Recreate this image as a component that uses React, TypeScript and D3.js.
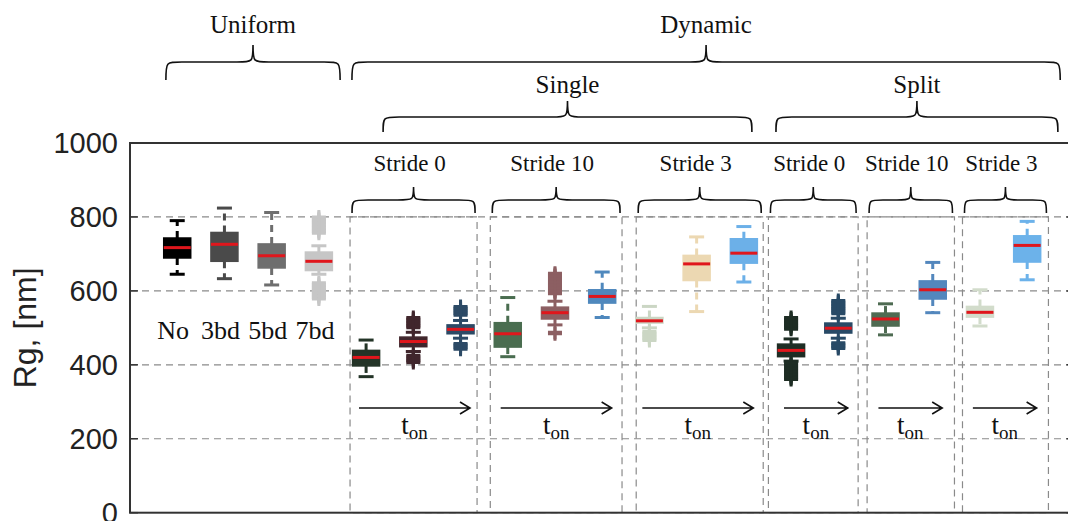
import React, { useEffect, useRef } from "react";
import * as d3 from "d3";

// ---- data ----
const uniformLabels = ["No", "3bd", "5bd", "7bd"];

const boxColors = [
  "#000000", "#4a4a4a", "#6e6e6e", "#c6c6c6",
  "#233427", "#40262c", "#2c4a66",
  "#4a6d50", "#8c5f62", "#4f88bd",
  "#cbd6c4", "#ecd8b2", "#6cb0e8",
  "#1e2d24", "#284a66",
  "#4e6b52", "#5387bd",
  "#d2dccb", "#6cb2ea",
];

const lowerCaps = [645, 633, 616, 645, 368, 436, 472, 422, 508, 528, 500, 544, 624, 410, 472, 481, 541, 505, 630];
const q1s = [689, 680, 662, 655, 397, 449, 484, 448, 524, 567, 513, 628, 675, 422, 486, 505, 578, 529, 678];
const medians = [717, 726, 695, 680, 420, 463, 496, 484, 541, 585, 519, 673, 702, 439, 499, 524, 603, 542, 723];
const q3s = [743, 758, 727, 705, 439, 475, 508, 514, 556, 603, 528, 696, 741, 456, 513, 540, 627, 558, 749];
const upperCaps = [790, 824, 812, 722, 467, 488, 520, 582, 572, 651, 558, 746, 774, 470, 526, 565, 677, 603, 788];

const outliers: number[][] = [
  [], [], [],
  [756, 760, 764, 768, 772, 776, 780, 784, 788, 792, 796, 800, 578, 582, 586, 590, 594, 598, 602, 606, 610, 614, 618, 622],
  [],
  [500, 504, 508, 512, 516, 520, 524, 528, 406, 410, 414, 418, 422, 426],
  [534, 538, 542, 546, 550, 554, 558, 442, 446, 450, 454, 458],
  [],
  [592, 596, 600, 604, 608, 612, 616, 620, 624, 628, 632, 636, 640, 644, 648, 484, 488],
  [],
  [466, 470, 474, 478, 482, 486, 490],
  [], [],
  [496, 500, 504, 508, 512, 516, 520, 524, 528, 360, 364, 368, 372, 376, 380, 384, 388, 392, 396, 400, 404],
  [538, 542, 546, 550, 554, 558, 562, 566, 570, 574, 444, 448, 452, 456, 460],
  [], [],
  [], [],
];

const yTicks = [0, 200, 400, 600, 800, 1000];

const strideLabels = ["Stride 0", "Stride 10", "Stride 3", "Stride 0", "Stride 10", "Stride 3"];
const strideMembers = [[5, 6, 7], [8, 9, 10], [11, 12, 13], [14, 15], [16, 17], [18, 19]];
const strideSpans: [number, number][] = [
  [4.66, 7.35], [7.63, 10.42], [10.72, 13.41],
  [13.52, 15.42], [15.61, 17.46], [17.63, 19.45],
];

const topLabels = ["Uniform", "Dynamic", "Single", "Split"];
const topSpans: [number, number][] = [[0.76, 4.45], [4.7, 19.7], [5.36, 13.17], [13.68, 19.65]];
const topLevels = [0, 0, 1, 1];

const W = 1068;
const H = 521;

function bracePath(x0: number, x1: number, yEnd: number, yMid: number, yTip: number) {
  const xc = (x0 + x1) / 2;
  const r = Math.min(16, (x1 - x0) / 6);
  return (
    `M${x0},${yEnd} C${x0},${yMid} ${x0},${yMid} ${x0 + r},${yMid} ` +
    `L${xc - r},${yMid} C${xc},${yMid} ${xc},${yMid} ${xc},${yTip} ` +
    `C${xc},${yMid} ${xc},${yMid} ${xc + r},${yMid} ` +
    `L${x1 - r},${yMid} C${x1},${yMid} ${x1},${yMid} ${x1},${yEnd}`
  );
}

const App: React.FC = () => {
  const svgRef = useRef<SVGSVGElement | null>(null);

  useEffect(() => {
    const svg = d3.select(svgRef.current);
    svg.selectAll("*").remove();

    const left = 130;
    const top = 143;
    const bottom = 512.7;

    const x = d3.scaleLinear().domain([0, 20]).range([left, left + 20 * 47.22]);
    const y = d3.scaleLinear().domain([0, 1000]).range([bottom, top]);
    const right = x(20);

    const serif = "'Liberation Serif', 'Times New Roman', serif";
    const sans = "'Liberation Sans', Arial, sans-serif";

    // grid lines
    svg
      .append("g")
      .selectAll("line")
      .data(yTicks.filter((t) => t > 0 && t < 1000))
      .enter()
      .append("line")
      .attr("x1", left)
      .attr("x2", right)
      .attr("y1", (d) => y(d))
      .attr("y2", (d) => y(d))
      .attr("stroke", "#8a8a8a")
      .attr("stroke-width", 1.2)
      .attr("stroke-dasharray", "7,5");

    // dashed group rectangles
    svg
      .append("g")
      .selectAll("rect")
      .data(strideSpans)
      .enter()
      .append("rect")
      .attr("x", (d) => x(d[0]))
      .attr("y", y(800))
      .attr("width", (d) => x(d[1]) - x(d[0]))
      .attr("height", y(0) - y(800))
      .attr("fill", "none")
      .attr("stroke", "#8a8a8a")
      .attr("stroke-width", 1.2)
      .attr("stroke-dasharray", "7,5");

    // frame
    svg
      .append("rect")
      .attr("x", left)
      .attr("y", top)
      .attr("width", right - left)
      .attr("height", bottom - top)
      .attr("fill", "none")
      .attr("stroke", "#333")
      .attr("stroke-width", 2);

    // y ticks + labels
    const yAxis = svg.append("g");
    yTicks.forEach((t) => {
      yAxis
        .append("line")
        .attr("x1", left)
        .attr("x2", left + 8)
        .attr("y1", y(t))
        .attr("y2", y(t))
        .attr("stroke", "#333")
        .attr("stroke-width", 1.5);
      yAxis
        .append("line")
        .attr("x1", right - 8)
        .attr("x2", right)
        .attr("y1", y(t))
        .attr("y2", y(t))
        .attr("stroke", "#333")
        .attr("stroke-width", 1.5);
      yAxis
        .append("text")
        .attr("x", left - 12)
        .attr("y", y(t))
        .attr("dy", "0.36em")
        .attr("text-anchor", "end")
        .attr("font-family", sans)
        .attr("font-size", 29)
        .attr("fill", "#222")
        .text(t);
    });

    svg
      .append("text")
      .attr("transform", `translate(36, ${(top + bottom) / 2}) rotate(-90)`)
      .attr("text-anchor", "middle")
      .attr("font-family", sans)
      .attr("font-size", 32)
      .attr("fill", "#222")
      .text("Rg, [nm]");

    // boxes
    const halfBox = 13.5;
    const halfCap = 7.5;
    const boxes = svg.append("g");
    boxColors.forEach((c, i) => {
      const cx = x(i + 1);
      const g = boxes.append("g");
      // whiskers (dashed like matlab)
      g.append("line")
        .attr("x1", cx).attr("x2", cx)
        .attr("y1", y(q3s[i])).attr("y2", y(upperCaps[i]))
        .attr("stroke", c).attr("stroke-width", 3).attr("stroke-dasharray", "7,5");
      g.append("line")
        .attr("x1", cx).attr("x2", cx)
        .attr("y1", y(q1s[i])).attr("y2", y(lowerCaps[i]))
        .attr("stroke", c).attr("stroke-width", 3).attr("stroke-dasharray", "7,5");
      [upperCaps[i], lowerCaps[i]].forEach((v) => {
        g.append("line")
          .attr("x1", cx - halfCap).attr("x2", cx + halfCap)
          .attr("y1", y(v)).attr("y2", y(v))
          .attr("stroke", c).attr("stroke-width", 3);
      });
      g.append("rect")
        .attr("x", cx - halfBox)
        .attr("y", y(q3s[i]))
        .attr("width", 2 * halfBox)
        .attr("height", y(q1s[i]) - y(q3s[i]))
        .attr("fill", c)
        .attr("stroke", c)
        .attr("stroke-width", 1.5);
      g.append("line")
        .attr("x1", cx - halfBox).attr("x2", cx + halfBox)
        .attr("y1", y(medians[i])).attr("y2", y(medians[i]))
        .attr("stroke", "#e0161c").attr("stroke-width", 3);
      outliers[i].forEach((v) => {
        g.append("path")
          .attr("d", `M${cx - 7},${y(v)} H${cx + 7} M${cx},${y(v) - 7} V${y(v) + 7}`)
          .attr("stroke", c)
          .attr("stroke-width", 3)
          .attr("fill", "none");
      });
    });

    // uniform labels
    uniformLabels.forEach((l, i) => {
      svg
        .append("text")
        .attr("x", x(i + 1) - 4)
        .attr("y", 339)
        .attr("text-anchor", "middle")
        .attr("font-family", serif)
        .attr("font-size", 26)
        .attr("fill", "#111")
        .text(l);
    });

    // stride labels + braces
    strideSpans.forEach((s, i) => {
      const x0 = x(s[0]);
      const x1 = x(s[1]);
      svg
        .append("path")
        .attr("d", bracePath(x0 + 2, x1 - 2, 213, 200, 187))
        .attr("fill", "none")
        .attr("stroke", "#111")
        .attr("stroke-width", 1.6);
      svg
        .append("text")
        .attr("x", (x0 + x1) / 2 - 4)
        .attr("y", 171)
        .attr("text-anchor", "middle")
        .attr("font-family", serif)
        .attr("font-size", 23)
        .attr("fill", "#111")
        .text(strideLabels[i]);

      // t_on arrows
      const m = strideMembers[i];
      const a0 = x(m[0] - 0.15);
      const a1 = x(m[m.length - 1] + 0.2);
      const ay = 408;
      svg
        .append("path")
        .attr("d", `M${a0},${ay} H${a1} M${a1 - 10},${ay - 6} L${a1},${ay} L${a1 - 10},${ay + 6}`)
        .attr("fill", "none")
        .attr("stroke", "#111")
        .attr("stroke-width", 1.6);
      const t = svg
        .append("text")
        .attr("x", (a0 + a1) / 2)
        .attr("y", 434)
        .attr("text-anchor", "middle")
        .attr("font-family", serif)
        .attr("fill", "#111");
      t.append("tspan").attr("font-size", 27).text("t");
      t.append("tspan").attr("font-size", 19).attr("dy", 5).text("on");
    });

    // top braces
    topSpans.forEach((s, i) => {
      const x0 = x(s[0]);
      const x1 = x(s[1]);
      const lvl = topLevels[i];
      const yEnd = lvl === 0 ? 80 : 132;
      const yMid = lvl === 0 ? 62 : 117;
      const yTip = lvl === 0 ? 45 : 101;
      svg
        .append("path")
        .attr("d", bracePath(x0, x1, yEnd, yMid, yTip))
        .attr("fill", "none")
        .attr("stroke", "#111")
        .attr("stroke-width", 1.6);
      svg
        .append("text")
        .attr("x", (x0 + x1) / 2)
        .attr("y", lvl === 0 ? 33 : 93)
        .attr("text-anchor", "middle")
        .attr("font-family", serif)
        .attr("font-size", 25)
        .attr("fill", "#111")
        .text(topLabels[i]);
    });
  }, []);

  return (
    <div style={{ position: "absolute", left: 0, top: 0, width: W, height: H, background: "#fff" }}>
      <svg ref={svgRef} width={W} height={H} style={{ display: "block" }}></svg>
    </div>
  );
};

export default App;
